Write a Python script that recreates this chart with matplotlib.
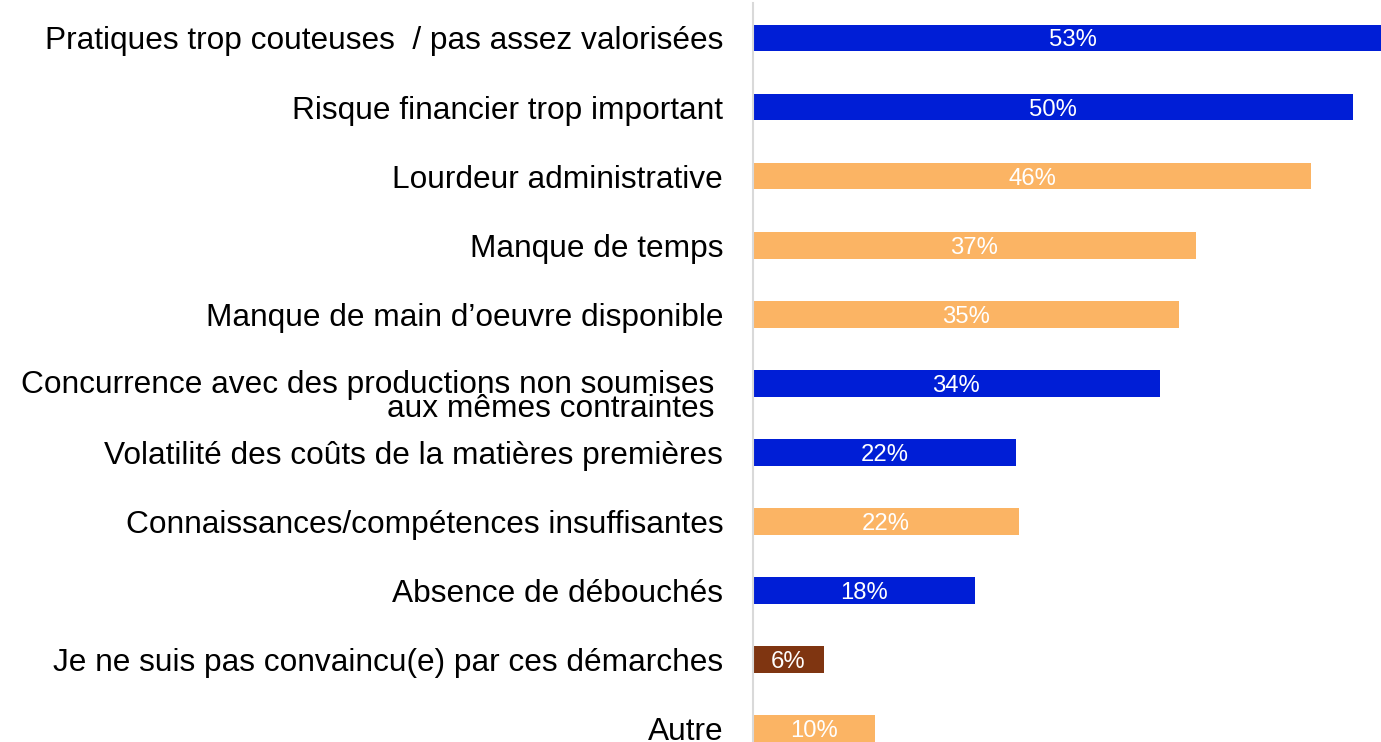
import matplotlib
matplotlib.use("Agg")
import matplotlib.pyplot as plt
import matplotlib.transforms as mtransforms

categories = [
    "Pratiques trop couteuses  / pas assez valorisées",
    "Risque financier trop important",
    "Lourdeur administrative",
    "Manque de temps",
    "Manque de main d\u2019oeuvre disponible",
    "Concurrence avec des productions non soumises \naux mêmes contraintes ",
    "Volatilité des coûts de la matières premières",
    "Connaissances/compétences insuffisantes",
    "Absence de débouchés",
    "Je ne suis pas convaincu(e) par ces démarches",
    "Autre",
]
values = [53.4, 50.0, 46.5, 36.9, 35.5, 33.9, 21.9, 22.2, 18.5, 5.9, 10.2]
labels = ["53%", "50%", "46%", "37%", "35%", "34%", "22%", "22%", "18%", "6%", "10%"]
groups = ["blue", "blue", "orange", "orange", "orange", "blue", "blue", "orange", "blue", "brown", "orange"]

palette = {"blue": "#001ED6", "orange": "#FBB464", "brown": "#7F3511"}

plt.rcParams["font.family"] = ["Liberation Sans", "DejaVu Sans"]

fig = plt.figure(figsize=(13.81, 7.42), dpi=100)
ax = fig.add_axes([753 / 1381, 0, 1 - 753 / 1381, 739 / 742])

pos = list(range(len(categories)))
bars = ax.barh(pos, values, height=0.39, color=[palette[g] for g in groups])

for b, v, lab in zip(bars, values, labels):
    ax.text(v / 2, b.get_y() + b.get_height() / 2, lab, ha="center", va="center_baseline",
            color="white", fontsize=17.2)

ax.set_xlim(0, 628 / 12)
ax.set_ylim(10.2, -0.507)
ax.set_yticks(pos)
ax.set_yticklabels(categories, fontsize=22.8)
ax.tick_params(axis="y", length=0, pad=21.5)
ax.set_xticks([])

for s in ["top", "right", "bottom"]:
    ax.spines[s].set_visible(False)
ax.spines["left"].set_color("#D9D9D9")
ax.spines["left"].set_linewidth(1.5)

# two-line label: tight line spacing, first line aligned with bar
tl = ax.get_yticklabels()[5]
tl.set_linespacing(0.74)
tl.set_transform(tl.get_transform() + mtransforms.ScaledTranslation(0, -13 / 100, fig.dpi_scale_trans))

fig.savefig("out.png", dpi=100)
